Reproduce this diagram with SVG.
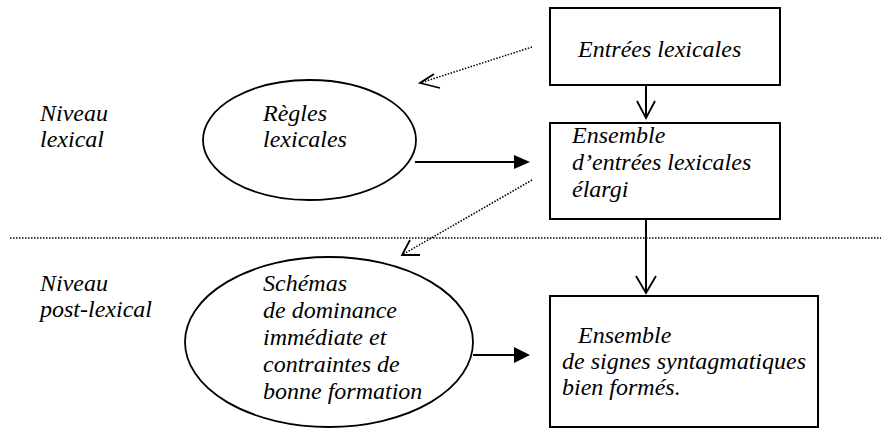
<svg xmlns="http://www.w3.org/2000/svg" width="881" height="430" viewBox="0 0 881 430">
<defs>
<style>
text{font-family:"Liberation Serif","Times New Roman",serif;font-style:italic;font-size:24px;fill:#000}
.box{fill:#fff;stroke:#000;stroke-width:2}
.ell{fill:#fff;stroke:#000;stroke-width:1.8}
.solid{fill:none;stroke:#000;stroke-width:2}
.dot{fill:none;stroke:#000;stroke-width:1.5;stroke-dasharray:1.5 1.5}
.open{fill:none;stroke:#000;stroke-width:1.8}
</style>
</defs>
<rect width="881" height="430" fill="#fff"/>
<g id="separator"><line class="dot" x1="10" y1="238" x2="881" y2="238"/></g>
<g id="label-lexical"><text x="40" y="121">Niveau</text><text x="40" y="147">lexical</text></g>
<g id="label-postlexical"><text x="40" y="291">Niveau</text><text x="40" y="317">post-lexical</text></g>
<g id="regles"><ellipse class="ell" cx="309.5" cy="140" rx="106.5" ry="60"/><text x="263" y="121">Règles</text><text x="263" y="147">lexicales</text></g>
<g id="schemas"><ellipse class="ell" cx="329" cy="342" rx="144" ry="85"/>
<text x="263" y="291">Schémas</text><text x="263" y="318">de dominance</text><text x="263" y="345">immédiate et</text><text x="263" y="372">contraintes de</text><text x="263" y="399">bonne formation</text></g>
<g id="entrees"><rect class="box" x="550" y="8" width="230" height="77"/><text x="578" y="57">Entrées lexicales</text></g>
<g id="ensemble-elargi"><rect class="box" x="550" y="123" width="230" height="96"/><text x="572" y="143">Ensemble</text><text x="572" y="170">d’entrées lexicales</text><text x="572" y="197">élargi</text></g>
<g id="ensemble-signes"><rect class="box" x="550" y="296" width="268" height="131"/><text x="578" y="343">Ensemble</text><text x="562" y="369">de signes syntagmatiques</text><text x="562" y="395">bien formés.</text></g>
<g id="connectors">
<line class="solid" x1="646" y1="85" x2="646" y2="118"/>
<polyline class="open" points="637,101 646,118 655,101"/>
<line class="solid" x1="646" y1="219" x2="646" y2="293"/>
<polyline class="open" points="636,276 646,293 656,276"/>
<line class="solid" x1="415" y1="162" x2="516" y2="162"/>
<polygon points="514,155 530,162 514,169" fill="#000"/>
<line class="solid" x1="473" y1="355" x2="516" y2="355"/>
<polygon points="514,347 530,355 514,363" fill="#000"/>
<line class="dot" x1="532" y1="47" x2="420" y2="83"/>
<polyline class="open" points="434,74 420,83 440,88"/>
<line class="dot" x1="532" y1="180" x2="402" y2="255"/>
<polyline class="open" points="410,240 402,255 420,255"/>
</g>
</svg>
